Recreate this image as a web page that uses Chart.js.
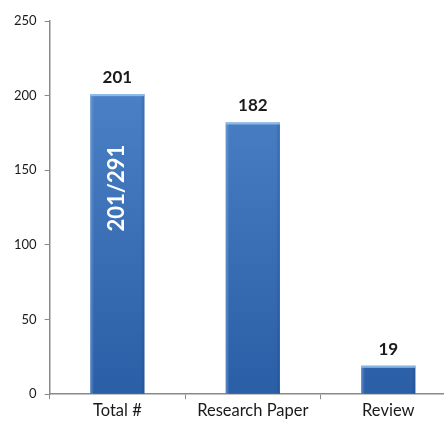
<!DOCTYPE html>
<html>
<head>
<meta charset="utf-8">
<script src="https://cdn.jsdelivr.net/npm/chart.js@4/dist/chart.umd.min.js"></script>
<style>
  html, body { margin: 0; padding: 0; background: #fff; overflow: hidden; }
  #wrap { width: 456px; height: 423px; }
</style>
</head>
<body>
<div id="wrap"><canvas id="c"></canvas></div>
<script>
const categories = ['Total #', 'Research Paper', 'Review'];
const counts = [201, 182, 19];
const yTicks = [0, 50, 100, 150, 200, 250];
// text written inside the first bar
const innerNotes = ['201/291', '', ''];

const font = "Lato, 'Open Sans', sans-serif";

// light rim around each bar + the top cap
const bevel = {
  id: 'bevel',
  afterDatasetsDraw(chart) {
    const ctx = chart.ctx;
    chart.getDatasetMeta(0).data.forEach(bar => {
      const l = bar.x - bar.width / 2, r = bar.x + bar.width / 2;
      const t = bar.y, b = bar.base;
      ctx.save();
      let g = ctx.createLinearGradient(l, 0, r, 0);
      g.addColorStop(0, 'rgba(140,180,230,0.5)');
      g.addColorStop(0.07, 'rgba(140,180,230,0)');
      g.addColorStop(0.93, 'rgba(20,60,120,0)');
      g.addColorStop(1, 'rgba(20,60,120,0.3)');
      ctx.fillStyle = g;
      ctx.fillRect(l, t, r - l, b - t);
      ctx.fillStyle = 'rgba(150,195,240,0.85)';
      ctx.fillRect(l, t, r - l, 2);
      ctx.restore();
    });
  }
};

// value on top + rotated note inside the bar
const labels = {
  id: 'labels',
  afterDatasetsDraw(chart) {
    const ctx = chart.ctx;
    chart.getDatasetMeta(0).data.forEach((bar, i) => {
      ctx.save();
      ctx.fillStyle = '#1a1a1a';
      ctx.font = 'bold 17px ' + font;
      ctx.textAlign = 'center';
      ctx.textBaseline = 'bottom';
      ctx.fillText(String(counts[i]), bar.x, bar.y - 8);
      if (innerNotes[i]) {
        ctx.translate(bar.x, chart.scales.y.getPixelForValue(138));
        ctx.rotate(-Math.PI / 2);
        ctx.fillStyle = '#ffffff';
        ctx.font = 'bold 22px ' + font;
        ctx.textBaseline = 'middle';
        ctx.fillText(innerNotes[i], 0, 0);
      }
      ctx.restore();
    });
  }
};

new Chart(document.getElementById('c'), {
  type: 'bar',
  data: {
    labels: categories,
    datasets: [{
      data: counts,
      barPercentage: 0.4,
      categoryPercentage: 1,
      backgroundColor(context) {
        const area = context.chart.chartArea;
        if (!area) return '#3a6fb8';
        const g = context.chart.ctx.createLinearGradient(0, area.top, 0, area.bottom);
        g.addColorStop(0, '#5288cc');
        g.addColorStop(1, '#2a5ea6');
        return g;
      }
    }]
  },
  options: {
    responsive: true,
    maintainAspectRatio: false,
    animation: false,
    layout: { padding: { top: 21, left: 6, right: 0, bottom: 0 } },
    plugins: { legend: { display: false }, tooltip: { enabled: false } },
    scales: {
      x: {
        grid: { display: true, drawOnChartArea: false, offset: true, color: '#8a8a8a', tickLength: 5 },
        border: { color: '#8a8a8a', width: 1.5 },
        ticks: { color: '#1a1a1a', font: { family: font, size: 16.5 }, padding: 2 }
      },
      y: {
        min: 0,
        max: 250,
        afterBuildTicks(scale) { scale.ticks = yTicks.map(v => ({ value: v })); },
        grid: { display: true, drawOnChartArea: false, color: '#8a8a8a', tickLength: 5 },
        border: { color: '#8a8a8a', width: 1.5 },
        ticks: { color: '#1a1a1a', font: { family: font, size: 13 }, padding: 8 }
      }
    }
  },
  plugins: [bevel, labels]
});
</script>
</body>
</html>
